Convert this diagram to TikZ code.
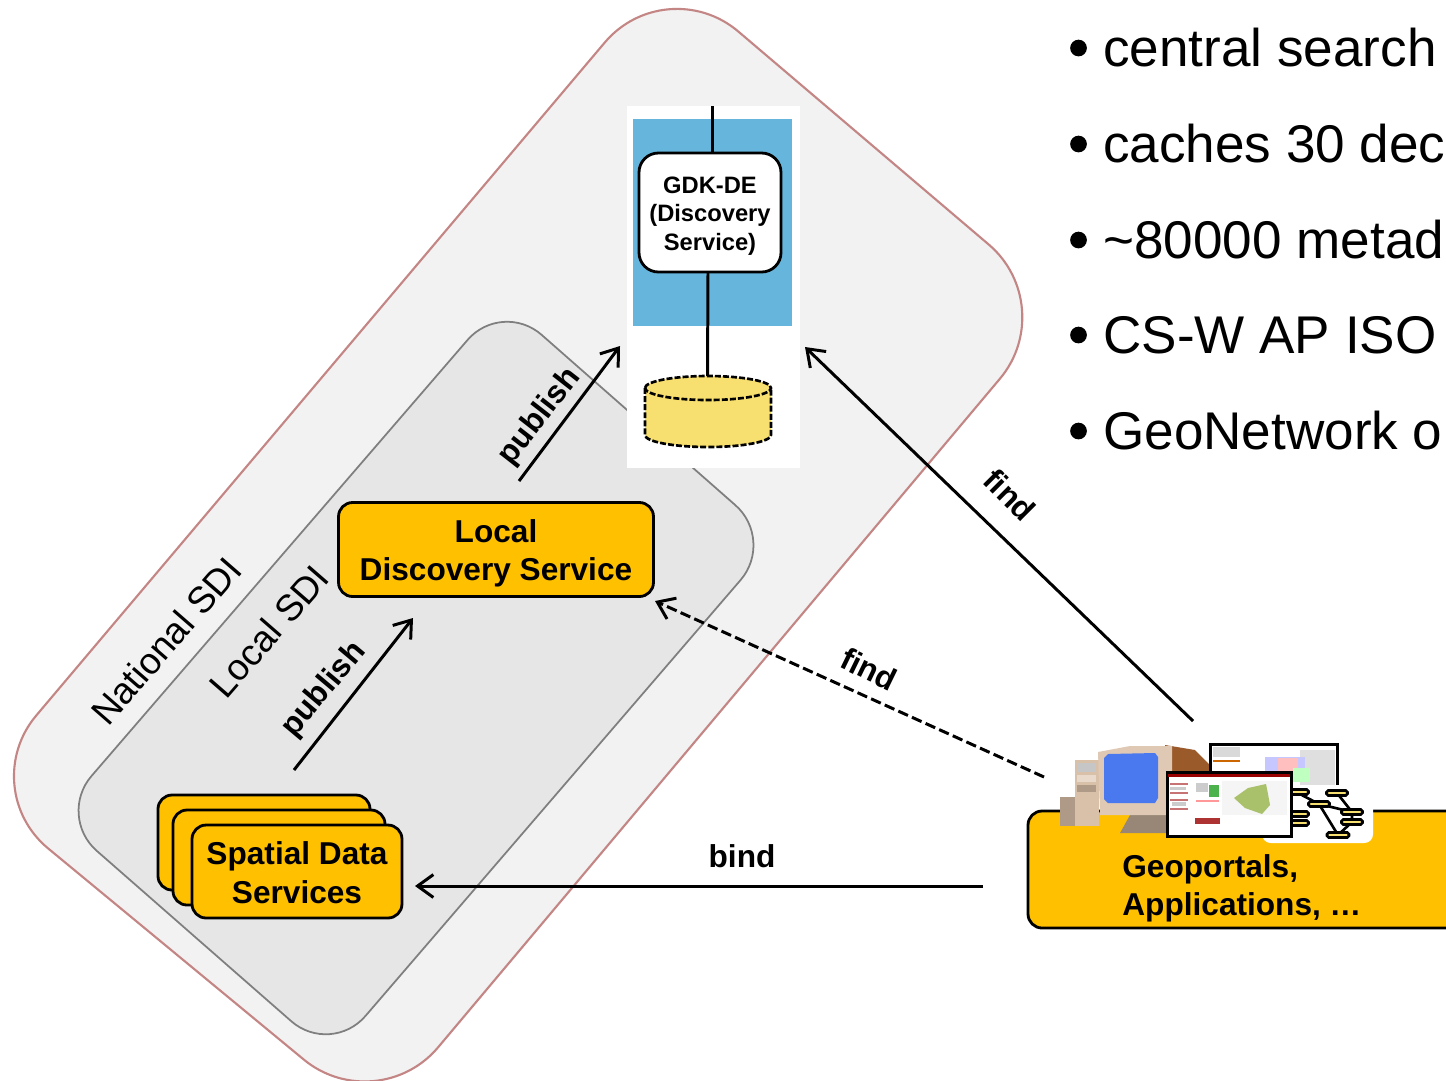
\documentclass[tikz,border=0pt]{standalone}
\usepackage{fontspec}
\setmainfont{Liberation Sans}
\usetikzlibrary{arrows.meta}
\definecolor{amberfill}{HTML}{FFC000}
\definecolor{outerfill}{HTML}{F2F2F2}
\definecolor{outerline}{HTML}{C48585}
\definecolor{innerfill}{HTML}{E6E6E6}
\definecolor{innerline}{HTML}{7F7F7F}
\definecolor{bluepanel}{HTML}{65B5DC}
\definecolor{dbfill}{HTML}{F7DF70}
\definecolor{crtbeige}{HTML}{D9C0A8}
\definecolor{crtside}{HTML}{9A5A2A}
\definecolor{crtscreen}{HTML}{4A78EE}
\tikzset{
  x=0.02cm,y=-0.02cm,
  amberbox/.style={draw=black,line width=1.6pt,fill=amberfill,rounded corners=8pt},
  boldlabel/.style={font=\fontsize{18}{21.7}\selectfont\bfseries,align=center,inner sep=0pt},
  sdilabel/.style={font=\fontsize{21}{25}\selectfont,rotate=49,inner sep=0pt},
  arrowlabel/.style={font=\fontsize{18}{21}\selectfont\bfseries,inner sep=0pt},
  bulletlabel/.style={font=\fontsize{30.2}{36}\selectfont,anchor=base west,inner sep=0pt},
  flow/.style={line width=1.7pt,-{Straight Barb[length=9pt,width=13pt,line width=1.7pt]}},
  dot/.style={circle,fill=black,minimum size=9.5pt,inner sep=0pt},
  mini/.style={draw=black,line width=1.5pt,fill=dbfill,rounded corners=1pt,inner sep=0pt,minimum height=0.1cm},
  shot/.style={draw=black,line width=1.7pt,fill=white},
  dbline/.style={line width=1.5pt,dash pattern=on 3.4pt off 1.2pt},
}
\begin{document}
\begin{tikzpicture}
\clip (0,0) rectangle (1446,1080);
\fill[white] (0,0) rectangle (1446,1080);
% SDI regions
\draw[outerline,fill=outerfill,line width=1.2pt,rounded corners=54pt]
  (666,-30) -- (1061,306) -- (377,1120) -- (-25,788) -- cycle;
\draw[innerline,fill=innerfill,line width=1pt,rounded corners=30pt]
  (502,300) -- (775,540) -- (331,1056) -- (57,816) -- cycle;
\node[sdilabel] (national) at (166,641) {National SDI};
\node[sdilabel] (localsdi) at (269,631) {Local SDI};
% GDK panel
\fill[white] (627,106) rectangle (800,468);
\fill[bluepanel] (633,119) rectangle (792,326);
\coordinate (gdktop) at (712,106);
\node[draw=black,line width=1.6pt,fill=white,rounded corners=11pt,inner sep=0pt,
      minimum width=2.84cm,minimum height=2.38cm,font=\fontsize{13.5}{16.2}\selectfont\bfseries,align=center] (gdk) at (710,212.5) {\rule{0pt}{13.4pt}GDK-DE\\(Discovery\\Service)};
\draw[line width=1.7pt] (gdktop) -- (712,153);
\coordinate (dbtop) at (707.5,376);
\draw[line width=1.7pt] (708,272) -- (dbtop);
\fill[dbfill] (645,388) -- (645,435) arc[start angle=180,end angle=360,x radius=63,y radius=-12] -- (771,388)
  arc[start angle=0,end angle=180,x radius=63,y radius=-12] -- cycle;
\draw[dbline] (645,388) arc[start angle=180,end angle=540,x radius=63,y radius=12];
\draw[dbline] (645,388) -- (645,435) arc[start angle=180,end angle=360,x radius=63,y radius=-12] -- (771,388);
% Local discovery
\node[amberbox,minimum width=6.3cm,minimum height=1.88cm,boldlabel] (local) at (496,549.5) {\rule{0pt}{17.5pt}Local\\Discovery Service};
% Spatial data services
\draw[amberbox] (158,795) rectangle (370,890);
\draw[amberbox] (173,810) rectangle (385,905);
\node[amberbox,minimum width=4.2cm,minimum height=1.86cm,boldlabel] (spatial) at (297,871.5) {\rule{0pt}{14.4pt}Spatial Data\\Services};
% Geoportals
\draw[amberbox] (1028,811) rectangle (1470,928);
\node[boldlabel,align=left,anchor=north west] (geo) at (1122,854) {Geoportals,\\Applications, …};
% computer icon
\fill[crtside] (1165,745) -- (1195,750) -- (1215,770) -- (1215,826) -- (1165,833) -- cycle;
\fill[crtbeige!70!black] (1130,815) -- (1170,815) -- (1170,833) -- (1120,833) -- cycle;
\fill[crtbeige!80!black] (1060,797) rectangle (1076,826);
\fill[crtbeige] (1075,760) rectangle (1099,826);
\fill[gray!45] (1077,763) rectangle (1096,772);
\fill[crtbeige!60!white] (1077,775) rectangle (1096,782);
\fill[crtbeige!80!black] (1077,785) rectangle (1096,792);
\fill[crtbeige!85!white] (1098,752) -- (1130,746) -- (1172,746) -- (1172,815) -- (1100,815) -- cycle;
\fill[crtscreen] (1104,758) -- (1108,754) -- (1155,753) -- (1158,757) -- (1158,798) -- (1155,803) -- (1108,803) -- (1104,799) -- cycle;
% back screenshot
\node[shot,minimum width=2.54cm,minimum height=1.2cm,inner sep=0pt] (shotback) at (1273.5,774) {};
\fill[gray!25] (1300,750) rectangle (1335,785);
\fill[blue!22!white] (1265,757) rectangle (1305,782);
\fill[red!25!white] (1278,758) rectangle (1298,772);
\fill[green!25!white] (1293,768) rectangle (1310,782);
\fill[orange!80!black] (1213,760) rectangle (1240,762);
\fill[gray!30] (1213,747) rectangle (1240,757);
% flow diagram
\fill[white,rounded corners=5pt] (1262,785) rectangle (1373,843);
\draw[line width=1.5pt] (1296,792) -- (1319,804) -- (1352,812) -- (1352,822) -- (1338,835) -- (1319,804);
\draw[line width=1.5pt] (1337,793) -- (1352,812);
\node[mini,minimum width=0.5cm] (m1) at (1296,792) {};
\node[mini,minimum width=0.42cm] (m2) at (1337,793) {};
\node[mini,minimum width=0.42cm] (m3) at (1319,804) {};
\node[mini,minimum width=0.42cm] (m4) at (1352,812) {};
\node[mini,minimum width=0.42cm] (m5) at (1352,822) {};
\node[mini,minimum width=0.44cm] (m6) at (1338,835) {};
\node[mini,minimum width=0.5cm] (m7) at (1296,814) {};
\node[mini,minimum width=0.5cm] (m8) at (1296,823) {};
% front screenshot
\node[shot,minimum width=2.48cm,minimum height=1.28cm,inner sep=0pt] (shotfront) at (1229,804) {};
\fill[red!60!black] (1168,774) rectangle (1290,777);
\fill[red!60!black!80!white] (1195,818) rectangle (1220,824);
\foreach \ya in {783,792,799,808}{\fill[red!60!black!55!white] (1170,\ya) rectangle (1188,\ya+2);}
\fill[gray!40] (1170,787) rectangle (1186,790);
\fill[gray!40] (1172,802) rectangle (1186,806);
\fill[gray!40] (1196,783) rectangle (1208,792);
\fill[green!40!gray] (1209,785) rectangle (1219,797);
\fill[red!40] (1196,800) rectangle (1219,802);
\fill[black!4] (1222,781) rectangle (1287,815);
\fill[brown!70!green!70!white] (1234,798) -- (1248,788) -- (1266,784) -- (1268,794) -- (1270,805) -- (1262,814) -- (1245,808) -- cycle;
% connectors
\coordinate (pub1a) at (294,770);
\coordinate (pub1b) at (413,618);
\coordinate (pub2a) at (519,481);
\coordinate (pub2b) at (620,346);
\coordinate (find1a) at (1193,721);
\coordinate (find1b) at (805,347);
\coordinate (find2a) at (1044,777);
\coordinate (find2b) at (655,601);
\coordinate (binda) at (983,886);
\coordinate (bindb) at (415,886);
\draw[flow] (pub1a) -- (pub1b);
\draw[flow] (pub2a) -- (pub2b);
\draw[flow] (find1a) -- (find1b);
\draw[flow,dash pattern=on 6pt off 2.5pt] (find2a) -- (find2b);
\draw[flow] (binda) -- (bindb);
\node[arrowlabel,rotate=50] (pl1) at (324,690) {publish};
\node[arrowlabel,rotate=52] (pl2) at (540,417) {publish};
\node[arrowlabel,rotate=-45] (fl1) at (1010,495) {find};
\node[arrowlabel,rotate=-26] (fl2) at (869,669) {find};
\node[arrowlabel] (bl) at (742,856) {bind};
% bullets
\foreach \i/\yy/\txt in {1/66/central search,2/162/caches 30 dec,3/258/\textasciitilde 80000 metad,4/353/CS-W AP ISO,5/449/GeoNetwork o}{
  \node[dot] (d\i) at (1078.5,\yy-18) {};
  \node[bulletlabel] (t\i) at (1103,\yy) {\txt};
}
\end{tikzpicture}
\end{document}
